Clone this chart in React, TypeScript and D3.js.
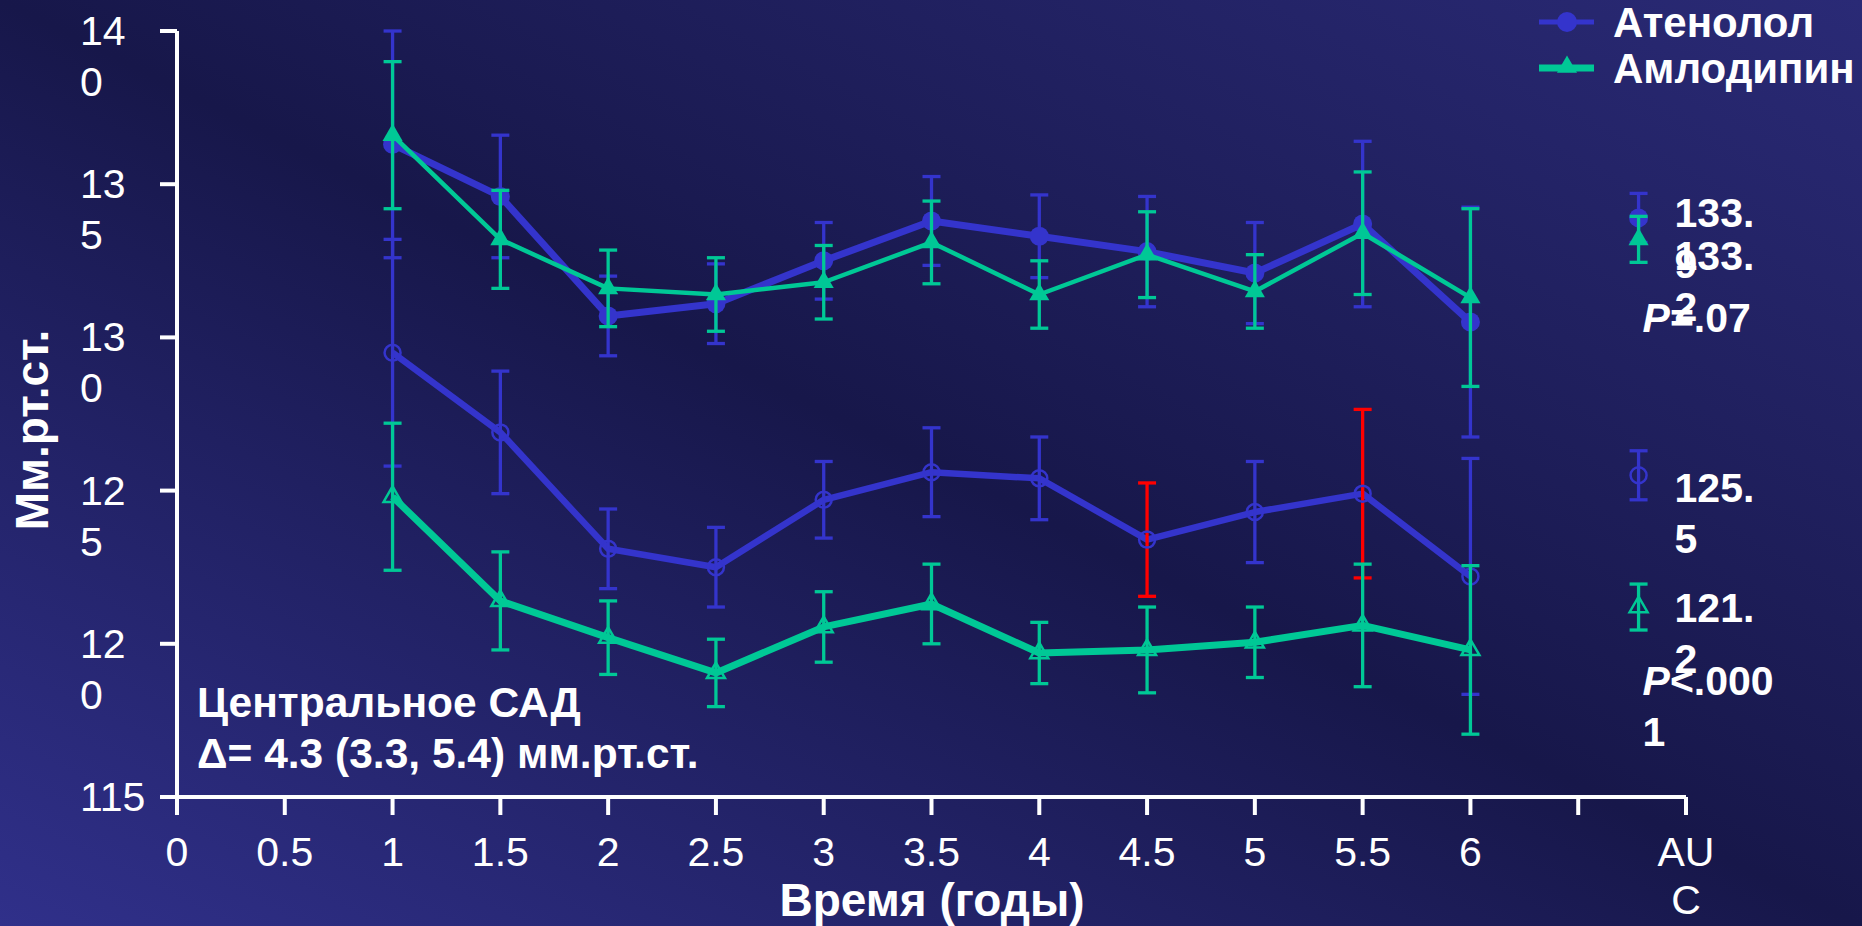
import React from "react";
import * as d3 from "d3";

// Follow-up visits, years
const times = [1, 1.5, 2, 2.5, 3, 3.5, 4, 4.5, 5, 5.5, 6];

// Brachial SBP (filled markers), mm Hg, mean and error half-width
const atenololBrachial = [136.3, 134.6, 130.7, 131.1, 132.5, 133.8, 133.3, 132.8, 132.1, 133.7, 130.5];
const atenololBrachialErr = [3.7, 2.0, 1.3, 1.3, 1.25, 1.45, 1.35, 1.8, 1.65, 2.7, 3.75];
const amlodipineBrachial = [136.6, 133.2, 131.6, 131.4, 131.8, 133.1, 131.4, 132.7, 131.5, 133.4, 131.3];
const amlodipineBrachialErr = [2.4, 1.6, 1.25, 1.2, 1.2, 1.35, 1.1, 1.4, 1.2, 2.0, 2.9];

// Central SBP (open markers)
const atenololCentral = [129.5, 126.9, 123.1, 122.5, 124.7, 125.6, 125.4, 123.4, 124.3, 124.9, 122.2];
const atenololCentralErr = [3.7, 2.0, 1.3, 1.3, 1.25, 1.45, 1.35, 1.85, 1.65, 2.75, 3.85];
const amlodipineCentral = [124.8, 121.4, 120.2, 119.05, 120.55, 121.3, 119.7, 119.8, 120.05, 120.6, 119.8];
const amlodipineCentralErr = [2.4, 1.6, 1.2, 1.1, 1.15, 1.3, 1.0, 1.4, 1.15, 2.0, 2.75];

// Visits whose central atenolol error bars are highlighted
const highlightTimes = [4.5, 5.5];

// Area-under-curve summary: brachial atenolol, brachial amlodipine, central atenolol, central amlodipine
const aucX = 6.78;
const aucMeans = [133.9, 133.2, 125.5, 121.2];
const aucErrs = [0.8, 0.75, 0.8, 0.75];
const pLabels = ["P=.07", "P<.0001"];

const xTickValues = [0, 0.5, 1, 1.5, 2, 2.5, 3, 3.5, 4, 4.5, 5, 5.5, 6, 6.5, 7];
const xTickLabels = ["0", "0.5", "1", "1.5", "2", "2.5", "3", "3.5", "4", "4.5", "5", "5.5", "6", "", "AU\nC"];
const yTickValues = [115, 120, 125, 130, 135, 140];
const yTickLabels = ["115", "12\n0", "12\n5", "13\n0", "13\n5", "14\n0"];

const legendNames = ["Атенолол", "Амлодипин"];
const noteLines = ["Центральное САД", "Δ= 4.3 (3.3, 5.4) мм.рт.ст."];
const xTitle = "Время (годы)";
const yTitle = "Мм.рт.ст.";

const W = 1862;
const H = 926;
const BLUE = "#3434cc";
const GREEN = "#00c896";
const RED = "#ff0000";
const FONT = "'Liberation Sans', Arial, sans-serif";

const x = d3.scaleLinear().domain([0, 7]).range([177, 1686]);
const y = d3.scaleLinear().domain([115, 140]).range([797, 31]);

// break a label into chunks of at most n characters (narrow text boxes)
function wrapChars(s: string, n: number): string[] {
  const out: string[] = [];
  for (let i = 0; i < s.length; i += n) out.push(s.slice(i, i + n));
  return out;
}

type Series = {
  values: number[];
  errs: number[];
  color: string;
  lineWidth: number;
  marker: "circle" | "triangle";
  filled: boolean;
  errColor?: (t: number) => string;
};

const series: Series[] = [
  { values: atenololBrachial, errs: atenololBrachialErr, color: BLUE, lineWidth: 7, marker: "circle", filled: true },
  { values: amlodipineBrachial, errs: amlodipineBrachialErr, color: GREEN, lineWidth: 4.5, marker: "triangle", filled: true },
  {
    values: atenololCentral, errs: atenololCentralErr, color: BLUE, lineWidth: 6.5, marker: "circle", filled: false,
    errColor: (t) => (highlightTimes.includes(t) ? RED : BLUE),
  },
  { values: amlodipineCentral, errs: amlodipineCentralErr, color: GREEN, lineWidth: 7, marker: "triangle", filled: false },
];

const triFilled = d3.symbol(d3.symbolTriangle, 175)();
const triOpen = d3.symbol(d3.symbolTriangle, 140)();

function Marker({ cx, cy, kind, filled, color }: { cx: number; cy: number; kind: string; filled: boolean; color: string }) {
  if (kind === "circle") {
    return filled ? (
      <circle cx={cx} cy={cy} r={9.5} fill={color} />
    ) : (
      <circle cx={cx} cy={cy} r={8} fill="none" stroke={color} strokeWidth={2.5} />
    );
  }
  return (
    <path
      d={(filled ? triFilled : triOpen) as string}
      transform={`translate(${cx},${cy})`}
      fill={filled ? color : "none"}
      stroke={filled ? "none" : color}
      strokeWidth={filled ? 0 : 2.5}
    />
  );
}

function ErrorBar({ cx, v, e, color }: { cx: number; v: number; e: number; color: string }) {
  const y0 = y(v + e);
  const y1 = y(v - e);
  const cap = 9;
  return (
    <g stroke={color} strokeWidth={3.3}>
      <line x1={cx} x2={cx} y1={y0} y2={y1} />
      <line x1={cx - cap} x2={cx + cap} y1={y0} y2={y0} />
      <line x1={cx - cap} x2={cx + cap} y1={y1} y2={y1} />
    </g>
  );
}

export default function App() {
  const line = d3
    .line<number>()
    .x((_, i) => x(times[i]))
    .y((d) => y(d));

  const aucKinds = [
    { kind: "circle", filled: true, color: BLUE },
    { kind: "triangle", filled: true, color: GREEN },
    { kind: "circle", filled: false, color: BLUE },
    { kind: "triangle", filled: false, color: GREEN },
  ];
  const aucLabelDy = [9, 31, 27, 15];
  const pLabelY = [332, 695];
  const ax = x(aucX);

  return (
    <svg
      width={W}
      height={H}
      style={{ position: "absolute", left: 0, top: 0, display: "block" }}
      fontFamily={FONT}
    >
      <defs>
        <linearGradient id="bg" x1="0" y1="1" x2="1" y2="0">
          <stop offset="0" stopColor="#30308a" />
          <stop offset="0.5" stopColor="#17174a" />
          <stop offset="1" stopColor="#2a2a76" />
        </linearGradient>
      </defs>
      <rect width={W} height={H} fill="url(#bg)" />

      {/* axes */}
      <g stroke="#fff" strokeWidth={4} fill="none">
        <line x1={x(0)} x2={x(0)} y1={y(115) + 2} y2={y(140)} />
        <line x1={x(0)} x2={x(7)} y1={y(115)} y2={y(115)} />
        {yTickValues.map((v) => (
          <line key={v} x1={x(0) - 17} x2={x(0)} y1={y(v)} y2={y(v)} />
        ))}
        {xTickValues.map((t) => (
          <line key={t} x1={x(t)} x2={x(t)} y1={y(115)} y2={y(115) + 18} />
        ))}
      </g>

      {/* y tick labels */}
      <g fill="#fff" fontSize={41}>
        {yTickValues.map((v, i) => (
          <text key={v} x={80} y={y(v) + 14}>
            {yTickLabels[i].split("\n").map((l, j) => (
              <tspan key={j} x={80} dy={j === 0 ? 0 : 51}>
                {l}
              </tspan>
            ))}
          </text>
        ))}
      </g>

      {/* x tick labels */}
      <g fill="#fff" fontSize={41} textAnchor="middle">
        {xTickValues.map((t, i) => (
          <text key={t} x={x(t)} y={866}>
            {xTickLabels[i].split("\n").map((l, j) => (
              <tspan key={j} x={x(t)} dy={j === 0 ? 0 : 48}>
                {l}
              </tspan>
            ))}
          </text>
        ))}
      </g>

      {/* axis titles */}
      <text x={932} y={916} fill="#fff" fontSize={46} fontWeight="bold" textAnchor="middle">
        {xTitle}
      </text>
      <text
        transform="translate(48,430) rotate(-90)"
        fill="#fff"
        fontSize={46}
        fontWeight="bold"
        textAnchor="middle"
      >
        {yTitle}
      </text>

      {/* series */}
      {series.map((s, si) => (
        <g key={si}>
          <path d={line(s.values) as string} fill="none" stroke={s.color} strokeWidth={s.lineWidth} strokeLinejoin="round" />
          {s.values.map((v, i) => (
            <ErrorBar
              key={i}
              cx={x(times[i])}
              v={v}
              e={s.errs[i]}
              color={s.errColor ? s.errColor(times[i]) : s.color}
            />
          ))}
          {s.values.map((v, i) => (
            <Marker key={i} cx={x(times[i])} cy={y(v)} kind={s.marker} filled={s.filled} color={s.color} />
          ))}
        </g>
      ))}

      {/* AUC summary markers */}
      {aucMeans.map((m, i) => (
        <g key={i}>
          <ErrorBar cx={ax} v={m} e={aucErrs[i]} color={aucKinds[i].color} />
          <Marker cx={ax} cy={y(m)} kind={aucKinds[i].kind} filled={aucKinds[i].filled} color={aucKinds[i].color} />
        </g>
      ))}
      <g fill="#fff" fontSize={41} fontWeight="bold">
        {aucMeans.map((m, i) => (
          <text key={i} x={ax + 36} y={y(m) + aucLabelDy[i]}>
            {wrapChars(m.toFixed(1), 4).map((l, j) => (
              <tspan key={j} x={ax + 36} dy={j === 0 ? 0 : 51}>
                {l}
              </tspan>
            ))}
          </text>
        ))}
        {pLabels.map((p, i) => (
          <text key={p} x={ax + 4} y={pLabelY[i]}>
            {wrapChars(p, 6).map((l, j) => (
              <tspan key={j} x={ax + 4} dy={j === 0 ? 0 : 51}>
                {j === 0 ? (
                  <>
                    <tspan fontStyle="italic">{l[0]}</tspan>
                    {l.slice(1)}
                  </>
                ) : (
                  l
                )}
              </tspan>
            ))}
          </text>
        ))}
      </g>

      {/* note */}
      <g fill="#fff" fontSize={42.5} fontWeight="bold">
        {noteLines.map((l, i) => (
          <text key={i} x={197} y={717 + i * 51}>
            {l}
          </text>
        ))}
      </g>

      {/* legend */}
      {legendNames.map((name, i) => {
        const ly = 22 + i * 46;
        const c = i === 0 ? BLUE : GREEN;
        return (
          <g key={name}>
            <line x1={1539} x2={1594} y1={ly} y2={ly} stroke={c} strokeWidth={i === 0 ? 5 : 7} />
            {i === 0 ? (
              <circle cx={1567} cy={ly} r={10} fill={c} />
            ) : (
              <path d={triFilled as string} transform={`translate(1567,${ly - 1})`} fill={c} />
            )}
            <text x={1613} y={ly + 15} fill="#fff" fontSize={42} fontWeight="bold">
              {name}
            </text>
          </g>
        );
      })}
    </svg>
  );
}
